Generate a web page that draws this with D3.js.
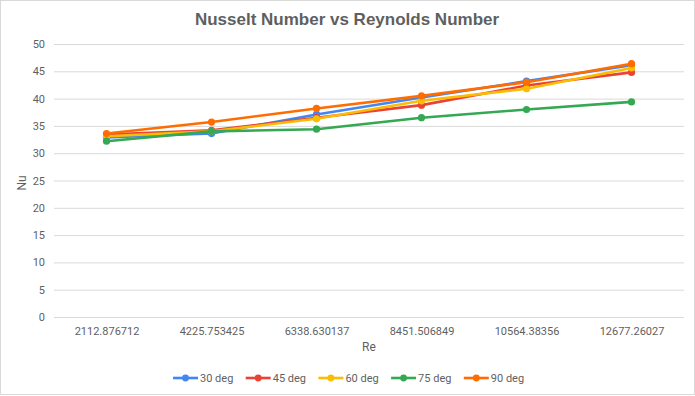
<!DOCTYPE html>
<html>
<head>
<meta charset="utf-8">
<script src="https://cdn.jsdelivr.net/npm/d3@7"></script>
<style>
  body { margin: 0; background: #fff; }
  svg text { font-family: Roboto, "Liberation Sans", Arial, sans-serif; }
</style>
</head>
<body>
<svg id="chart" width="695" height="396"></svg>
<script>
// categories on the x axis (Reynolds number)
const reLabels = ["2112.876712", "4225.753425", "6338.630137", "8451.506849", "10564.38356", "12677.26027"];
const yTicks = [0, 5, 10, 15, 20, 25, 30, 35, 40, 45, 50];

// Nusselt number per angle
const seriesNames = ["30 deg", "45 deg", "60 deg", "75 deg", "90 deg"];
const nu30 = [32.9, 33.6, 37.1, 40.2, 43.2, 46.1];
const nu45 = [33.4, 34.2, 36.5, 38.8, 42.4, 44.8];
const nu60 = [33.1, 34.0, 36.3, 39.6, 41.8, 45.6];
const nu75 = [32.2, 34.0, 34.4, 36.5, 38.0, 39.4];
const nu90 = [33.6, 35.7, 38.2, 40.5, 43.0, 46.4];
const seriesColors = ["#4285f4", "#ea4335", "#fbbc04", "#34a853", "#ff6d01"];

var svg = d3.select("#chart");
var margin = {top: 44, right: 11, bottom: 79, left: 54};
var width = +svg.attr("width");
var height = +svg.attr("height");
var innerWidth = width - margin.left - margin.right;
var innerHeight = height - margin.top - margin.bottom;

// outer frame
svg.append("rect")
  .attr("x", 0.5).attr("y", 0.5)
  .attr("width", width - 1).attr("height", height - 2)
  .attr("fill", "none")
  .attr("stroke", "#d9d9d9");

var g = svg.append("g")
  .attr("transform", `translate(${margin.left},${margin.top})`);

var x = d3.scalePoint()
  .domain(reLabels)
  .range([0, innerWidth])
  .padding(0.5);

var y = d3.scaleLinear()
  .domain([0, 50])
  .range([innerHeight, 0]);

// gridlines + y labels
var yAxis = g.append("g")
  .call(d3.axisLeft(y).tickValues(yTicks).tickSize(-innerWidth).tickPadding(9));
yAxis.select(".domain").remove();
yAxis.selectAll(".tick line").attr("stroke", "#d9d9d9");
yAxis.selectAll(".tick text")
  .attr("fill", "#5f5f5f")
  .style("font-size", "11px");

// x labels
var xAxis = g.append("g")
  .attr("transform", `translate(0,${innerHeight})`)
  .call(d3.axisBottom(x).tickSize(0).tickPadding(10));
xAxis.select(".domain").remove();
xAxis.selectAll(".tick text")
  .attr("fill", "#5f5f5f")
  .style("font-size", "11px");

// lines
var allSeries = [nu30, nu45, nu60, nu75, nu90];
var line = d3.line()
  .x((d, i) => x(reLabels[i]))
  .y(d => y(d));

allSeries.forEach(function(vals, s) {
  var sg = g.append("g");
  sg.append("path")
    .datum(vals)
    .attr("fill", "none")
    .attr("stroke", seriesColors[s])
    .attr("stroke-width", 2.6)
    .attr("stroke-linejoin", "round")
    .attr("d", line);
  sg.selectAll("circle")
    .data(vals)
    .enter().append("circle")
    .attr("cx", (d, i) => x(reLabels[i]))
    .attr("cy", d => y(d))
    .attr("r", 3.6)
    .attr("fill", seriesColors[s]);
});

// title
svg.append("text")
  .attr("x", 347)
  .attr("y", 25)
  .attr("text-anchor", "middle")
  .attr("fill", "#5f5f5f")
  .style("font-family", "'Liberation Sans', Arial, sans-serif")
  .style("font-size", "17px")
  .style("font-weight", "bold")
  .text("Nusselt Number vs Reynolds Number");

// axis titles
svg.append("text")
  .attr("x", margin.left + innerWidth / 2)
  .attr("y", 351)
  .attr("text-anchor", "middle")
  .attr("fill", "#5f5f5f")
  .style("font-size", "12px")
  .text("Re");

svg.append("text")
  .attr("transform", "translate(26,183) rotate(-90)")
  .attr("text-anchor", "middle")
  .attr("fill", "#5f5f5f")
  .style("font-size", "12px")
  .text("Nu");

// legend
var legend = svg.append("g")
  .attr("transform", "translate(173,378)");
seriesNames.forEach(function(name, i) {
  var item = legend.append("g").attr("transform", `translate(${i * 72.7},0)`);
  item.append("line")
    .attr("x1", 0).attr("x2", 25)
    .attr("stroke", seriesColors[i])
    .attr("stroke-width", 2.6);
  item.append("circle")
    .attr("cx", 12.5).attr("r", 3.4)
    .attr("fill", seriesColors[i]);
  item.append("text")
    .attr("x", 27)
    .attr("dy", "0.35em")
    .attr("fill", "#5f5f5f")
    .style("font-size", "11px")
    .text(name);
});
</script>
</body>
</html>
